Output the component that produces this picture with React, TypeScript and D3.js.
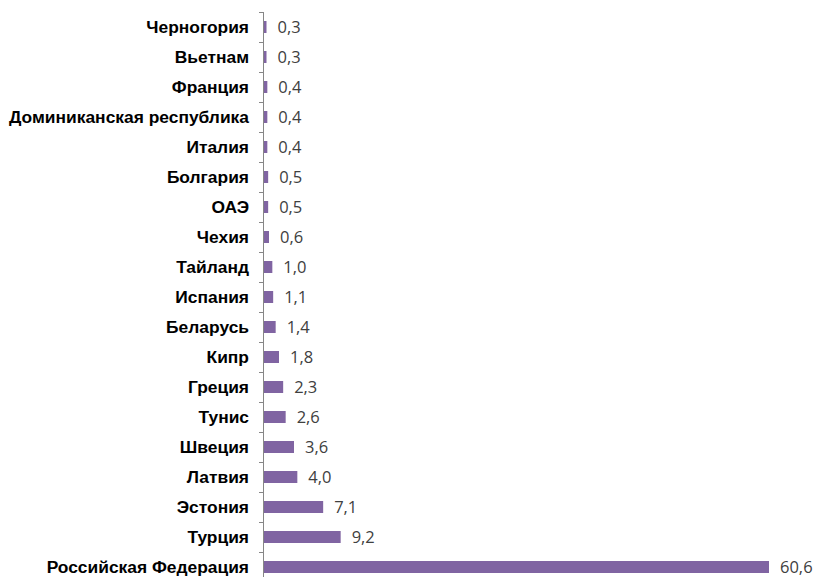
import React, { useEffect, useRef } from 'react'
import * as d3 from 'd3'

const countries = [
  'Черногория', 'Вьетнам', 'Франция', 'Доминиканская республика', 'Италия',
  'Болгария', 'ОАЭ', 'Чехия', 'Тайланд', 'Испания', 'Беларусь', 'Кипр',
  'Греция', 'Тунис', 'Швеция', 'Латвия', 'Эстония', 'Турция', 'Российская Федерация',
]
const shares = [0.3, 0.3, 0.4, 0.4, 0.4, 0.5, 0.5, 0.6, 1.0, 1.1, 1.4, 1.8, 2.3, 2.6, 3.6, 4.0, 7.1, 9.2, 60.6]

const width = 818
const height = 577

export default function App() {
  const ref = useRef<SVGSVGElement>(null)

  useEffect(() => {
    const svg = d3.select(ref.current)
    svg.selectAll('*').remove()

    const x = d3.scaleLinear().domain([0, 60.6]).range([264, 769])
    const y = d3.scaleBand().domain(countries).range([12, 582]).paddingInner(0.6).paddingOuter(0.3)

    // bars
    svg.selectAll('.bar')
      .data(countries)
      .enter().append('rect')
      .attr('class', 'bar')
      .attr('x', x(0))
      .attr('y', d => y(d)!)
      .attr('width', (d, i) => x(shares[i]) - x(0))
      .attr('height', y.bandwidth())
      .attr('fill', '#8064A2')

    // axis line + ticks
    const axis = svg.append('g').attr('stroke', '#868686').attr('stroke-width', 1)
    axis.append('line').attr('x1', 263.5).attr('x2', 263.5).attr('y1', 12).attr('y2', 582)
    const step = y.step()
    d3.range(countries.length + 1).forEach(i => {
      const ty = Math.round(12 + i * step) + 0.5
      axis.append('line').attr('x1', 259).attr('x2', 263.5).attr('y1', ty).attr('y2', ty)
    })

    // category labels
    svg.selectAll('.cat')
      .data(countries)
      .enter().append('text')
      .attr('class', 'cat')
      .attr('x', 249)
      .attr('y', d => y(d)! + y.bandwidth() / 2)
      .attr('dy', '0.36em')
      .attr('text-anchor', 'end')
      .attr('font-family', '"Liberation Sans", Arial, sans-serif')
      .attr('font-weight', 'bold')
      .attr('font-size', 17.4)
      .attr('fill', '#000')
      .text(d => d)

    // value labels
    svg.selectAll('.val')
      .data(countries)
      .enter().append('text')
      .attr('class', 'val')
      .attr('x', (d, i) => x(shares[i]) + 11)
      .attr('y', d => y(d)! + y.bandwidth() / 2)
      .attr('dy', '0.36em')
      .attr('font-family', '"Open Sans", sans-serif')
      .attr('font-size', 16.5)
      .attr('fill', '#404040')
      .text((d, i) => shares[i].toFixed(1).replace('.', ','))
  }, [])

  return (
    <svg ref={ref} width={width} height={height}
      style={{ position: 'absolute', left: 0, top: 0, background: '#fff' }} />
  )
}
